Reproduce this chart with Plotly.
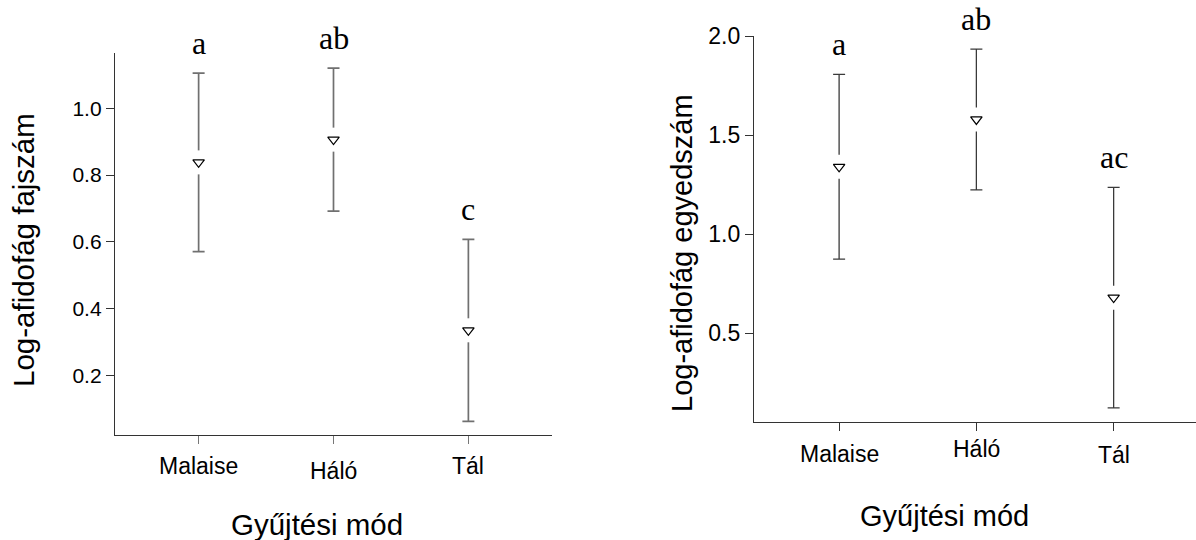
import plotly.graph_objects as go

# Collection methods and group statistics (log-transformed aphidophage counts)
categories = ["Malaise", "Háló", "Tál"]

species_mean = [0.838, 0.906, 0.336]
species_err = [0.267, 0.214, 0.272]
species_groups = ["a", "ab", "c"]

individ_mean = [1.34, 1.579, 0.68]
individ_err = [0.466, 0.355, 0.556]
individ_groups = ["a", "ab", "ac"]

species_ticks = [0.2, 0.4, 0.6, 0.8, 1.0]
individ_ticks = [0.5, 1.0, 1.5, 2.0]

# vertical pixel offsets of the category labels below each x axis
left_label_shift = [-16, -21, -16]
right_label_shift = [-17, -12, -18]

W, H = 1196, 540
SANS = "Liberation Sans, Arial, sans-serif"
SERIF = "Liberation Serif, Times New Roman, serif"

fig = go.Figure()


def add_panel(fig, xa, ya, means, errs, bar_color, bar_width):
    # error bars (markers hidden)
    fig.add_trace(go.Scatter(
        x=categories, y=means, mode="markers", xaxis=xa, yaxis=ya,
        marker=dict(size=1, color="rgba(0,0,0,0)"),
        error_y=dict(type="data", array=errs, symmetric=True,
                     color=bar_color, thickness=bar_width, width=6),
        showlegend=False, hoverinfo="skip"))
    # white gap in the bar around each mean
    fig.add_trace(go.Scatter(
        x=categories, y=means, mode="markers", xaxis=xa, yaxis=ya,
        marker=dict(symbol="square", size=24, color="white",
                    line=dict(width=0)),
        showlegend=False, hoverinfo="skip"))
    # open down-triangle at the mean
    fig.add_trace(go.Scatter(
        x=categories, y=means, mode="markers", xaxis=xa, yaxis=ya,
        marker=dict(symbol="triangle-down", size=10, color="white",
                    line=dict(color="black", width=1.2)),
        showlegend=False))


add_panel(fig, "x", "y", species_mean, species_err, "#707070", 1.7)
add_panel(fig, "x2", "y2", individ_mean, individ_err, "#3a3a3a", 1.3)

axis_common = dict(showgrid=False, zeroline=False, showline=True,
                   automargin=False,
                   linecolor="#333333", linewidth=1.3, ticks="outside",
                   ticklen=8, tickwidth=1.2)

fig.update_layout(
    width=W, height=H,
    margin=dict(l=0, r=0, t=0, b=0),
    paper_bgcolor="white", plot_bgcolor="white",
    xaxis=dict(domain=[115 / W, 552 / W], anchor="y", type="category",
               range=[-0.62, 2.62], tickcolor="#777777",
               showticklabels=False, **axis_common),
    yaxis=dict(domain=[1 - 435 / H, 1 - 53 / H], anchor="x",
               range=[0.023, 1.165], tickvals=species_ticks,
               tickformat=".1f", tickcolor="#333333",
               tickfont=dict(family=SANS, size=21, color="black"),
               **axis_common),
    xaxis2=dict(domain=[754 / W, 1.0], anchor="y2", type="category",
                range=[-0.62, 2.60], tickcolor="#333333",
                showticklabels=False, **axis_common),
    yaxis2=dict(domain=[1 - 421.7 / H, 1 - 36 / H], anchor="x2",
                range=[0.054, 2.0], tickvals=individ_ticks,
                tickformat=".1f", tickcolor="#333333",
                tickfont=dict(family=SANS, size=23, color="black"),
                **axis_common),
)

annotations = []
# significance letters above each bar
for xa, ya, means, errs, groups in [
        ("x", "y", species_mean, species_err, species_groups),
        ("x2", "y2", individ_mean, individ_err, individ_groups)]:
    for c, m, e, g in zip(categories, means, errs, groups):
        annotations.append(dict(
            x=c, y=m + e, xref=xa, yref=ya, text=g, showarrow=False,
            xanchor="center", yanchor="bottom", yshift=10,
            font=dict(family=SERIF, size=32, color="black")))

# category labels under each x axis
cat_font = dict(family=SANS, size=23, color="black")
for xa, ybottom, shifts in [("x", 1 - 435 / H, left_label_shift),
                            ("x2", 1 - 421.7 / H, right_label_shift)]:
    for c, s in zip(categories, shifts):
        annotations.append(dict(
            x=c, y=ybottom, xref=xa, yref="paper", text=c,
            showarrow=False, xanchor="center", yanchor="top", yshift=s,
            font=cat_font))

# axis titles
annotations += [
    dict(x=23 / W, y=1 - 250 / H, xref="paper", yref="paper",
         text="Log-afidofág fajszám", textangle=-90, showarrow=False,
         xanchor="center", yanchor="middle",
         font=dict(family=SANS, size=29.5, color="black")),
    dict(x=682 / W, y=1 - 253 / H, xref="paper", yref="paper",
         text="Log-afidofág egyedszám", textangle=-90, showarrow=False,
         xanchor="center", yanchor="middle",
         font=dict(family=SANS, size=29, color="black")),
    dict(x=317 / W, y=1 - 524 / H, xref="paper", yref="paper",
         text="Gyűjtési mód", showarrow=False,
         xanchor="center", yanchor="middle",
         font=dict(family=SANS, size=29.5, color="black")),
    dict(x=944 / W, y=1 - 516 / H, xref="paper", yref="paper",
         text="Gyűjtési mód", showarrow=False,
         xanchor="center", yanchor="middle",
         font=dict(family=SANS, size=29, color="black")),
]
fig.update_layout(annotations=annotations)

fig.write_html("out.html")
